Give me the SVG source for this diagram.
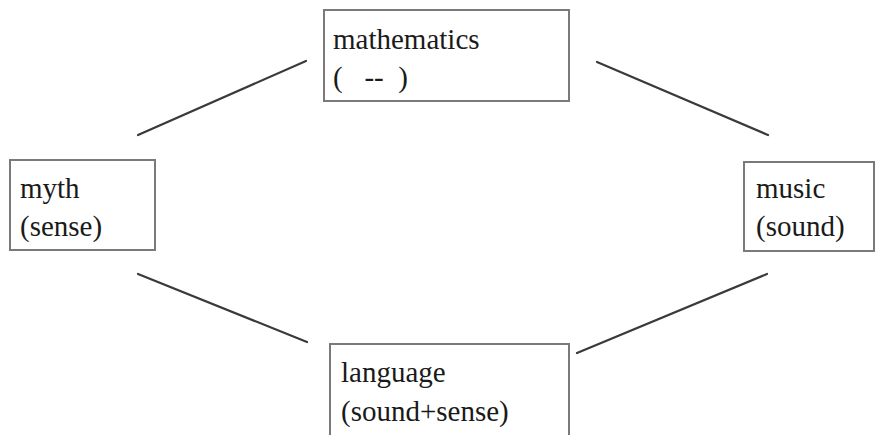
<svg xmlns="http://www.w3.org/2000/svg" width="878" height="435" viewBox="0 0 878 435">
  <style>
    .box { fill: #ffffff; stroke: #7a7a7a; stroke-width: 2; }
    .link { stroke: #3a3a3a; stroke-width: 2.2; stroke-linecap: round; fill: none; }
  </style>
  <rect width="878" height="435" fill="#ffffff"/>

  <!-- connectors -->
  <g id="connectors">
    <line class="link" x1="138" y1="135" x2="306" y2="61"/>
    <line class="link" x1="597" y1="62" x2="768" y2="135"/>
    <line class="link" x1="138" y1="274" x2="307" y2="342"/>
    <line class="link" x1="577" y1="353" x2="767" y2="274"/>
  </g>

  <!-- nodes; all labels share one serif face -->
  <g font-family="Liberation Serif, Times New Roman, Times, DejaVu Serif, serif" font-size="29" fill="#1a1a1a">
    <g id="mathematics">
      <rect class="box" x="324" y="10" width="245" height="91"/>
      <text x="333" y="49">mathematics</text>
      <text x="333" y="87" xml:space="preserve">(   --  )</text>
    </g>

    <g id="myth">
      <rect class="box" x="10" y="160" width="145" height="90"/>
      <text x="20" y="198">myth</text>
      <text x="20" y="236">(sense)</text>
    </g>

    <g id="music">
      <rect class="box" x="744" y="162" width="130" height="89"/>
      <text x="756" y="198">music</text>
      <text x="756" y="236">(sound)</text>
    </g>

    <g id="language">
      <rect class="box" x="330" y="344" width="239" height="100"/>
      <text x="341" y="382">language</text>
      <text x="341" y="421">(sound+sense)</text>
    </g>
  </g>
</svg>
